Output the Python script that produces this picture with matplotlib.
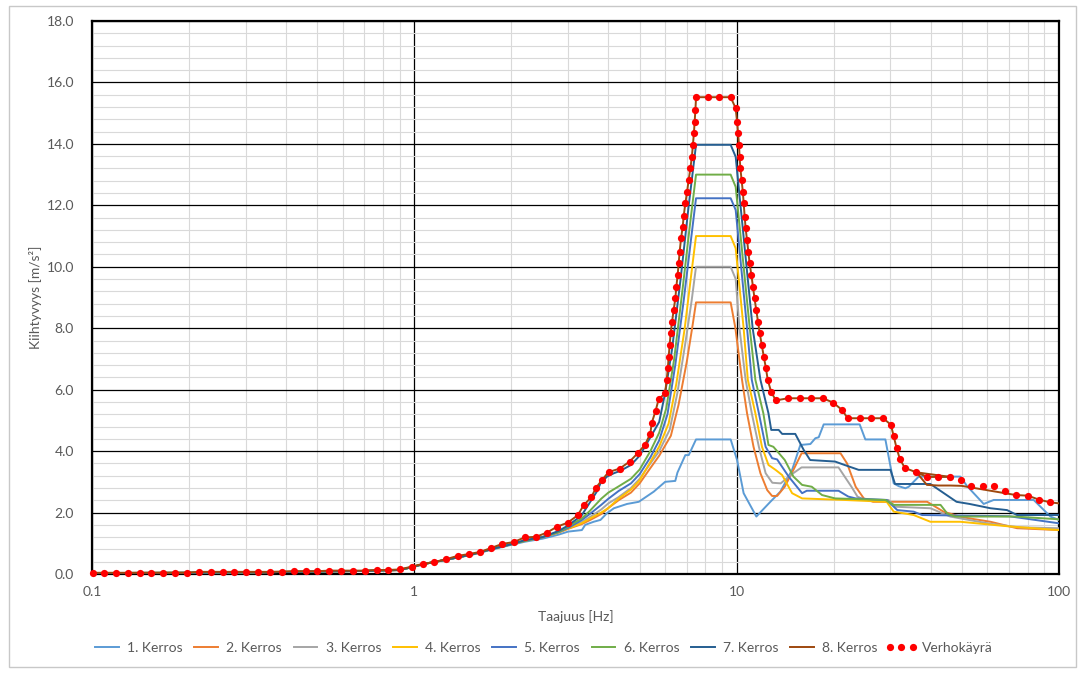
import matplotlib
matplotlib.use("Agg")
import matplotlib.pyplot as plt
from matplotlib.patches import Rectangle
from matplotlib.ticker import FixedLocator, FixedFormatter, NullFormatter

plt.rcParams['font.family'] = ['Lato', 'DejaVu Sans']

# ---------------- data ----------------
ENV_F = [0.1004, 0.1092, 0.1190, 0.1293, 0.1405, 0.1528, 0.1664, 0.1809, 0.1971, 0.2142,
         0.2333, 0.2542, 0.2763, 0.3004, 0.3273, 0.3567, 0.3876, 0.4221, 0.4600, 0.5000,
         0.5436, 0.5924, 0.6452, 0.7012, 0.7638, 0.8304, 0.9029, 0.9809,
         1.064, 1.154, 1.254, 1.362, 1.478, 1.602, 1.734, 1.875, 2.033, 2.199,
         2.386, 2.580, 2.772, 2.990, 3.212, 3.353, 3.541, 3.662, 3.822, 4.008,
         4.335, 4.656, 4.930, 5.197, 5.398, 5.449, 5.607, 5.728,
         5.995, 6.064, 6.116, 6.152, 6.196, 6.240, 6.303, 6.375, 6.453, 6.499,
         6.560, 6.607, 6.655, 6.722, 6.800, 6.849, 6.932, 7.017, 7.098, 7.184,
         7.262, 7.314, 7.367, 7.409, 7.447, 7.482, 8.128, 8.836, 9.580,
         9.929, 10.03, 10.10, 10.17, 10.21, 10.27, 10.36, 10.45, 10.51, 10.59,
         10.66, 10.77, 10.87, 10.97, 11.11, 11.23, 11.36, 11.50, 11.64, 11.79,
         11.96, 12.14, 12.32, 12.48, 12.79, 13.23, 14.42, 15.71, 17.06, 18.51,
         19.91, 21.23, 22.10, 24.06, 26.15, 28.46, 30.09, 30.70, 31.34, 32.09,
         33.26, 36.12, 38.92, 42.25, 45.94, 49.80, 53.19, 57.94, 63.04, 68.06,
         73.49, 79.99, 86.77, 94.05, 100.0]
ENV_A = [0.04, 0.04, 0.04, 0.04, 0.04, 0.04, 0.04, 0.04, 0.04, 0.07,
         0.07, 0.07, 0.07, 0.07, 0.07, 0.07, 0.08, 0.09, 0.09, 0.09,
         0.11, 0.11, 0.11, 0.11, 0.13, 0.13, 0.15, 0.24,
         0.33, 0.39, 0.48, 0.59, 0.65, 0.72, 0.85, 0.98, 1.04, 1.19,
         1.21, 1.35, 1.54, 1.67, 1.91, 2.24, 2.50, 2.81, 3.06, 3.32,
         3.43, 3.66, 3.93, 4.21, 4.57, 4.91, 5.32, 5.69,
         5.88, 6.30, 6.70, 7.07, 7.45, 7.84, 8.21, 8.59, 8.97, 9.35,
         9.73, 10.11, 10.49, 10.93, 11.30, 11.65, 12.07, 12.44, 12.83, 13.20,
         13.58, 13.97, 14.34, 14.72, 15.10, 15.52, 15.52, 15.52, 15.52,
         15.16, 14.72, 14.34, 13.97, 13.58, 13.20, 12.83, 12.44, 12.07, 11.63,
         11.25, 10.87, 10.49, 10.11, 9.73, 9.35, 8.97, 8.59, 8.21, 7.84,
         7.46, 7.07, 6.71, 6.33, 5.93, 5.65, 5.72, 5.72, 5.72, 5.72,
         5.58, 5.34, 5.07, 5.07, 5.07, 5.07, 4.86, 4.49, 4.10, 3.74,
         3.45, 3.31, 3.16, 3.16, 3.16, 3.07, 2.86, 2.86, 2.86, 2.71,
         2.57, 2.55, 2.42, 2.33, 2.30]

LOW_F = [0.1, 0.2, 0.35, 0.5, 0.7, 0.9, 0.98, 1.064, 1.25, 1.5, 1.75, 2.0, 2.2, 2.5, 2.8]

K1_F = LOW_F + [3.0, 3.31, 3.39, 3.60, 3.78, 3.96, 4.16, 4.57, 4.97, 5.15, 5.53, 6.0,
                6.45, 6.55, 6.93, 7.10, 7.48, 9.58, 10.03, 10.51, 11.51, 12.72, 13.66,
                14.86, 15.76, 16.93, 17.55, 17.97, 18.62, 24.08, 25.07, 28.93, 30.70,
                31.81, 33.38, 34.18, 36.71, 49.44, 51.87, 58.40, 62.72, 83.47, 94.05, 100.0]
K1_A = [0.03, 0.04, 0.06, 0.08, 0.10, 0.13, 0.22, 0.32, 0.46, 0.62, 0.80, 0.95, 1.05, 1.15, 1.28,
        1.38, 1.43, 1.60, 1.70, 1.76, 1.98, 2.14, 2.28, 2.35, 2.46, 2.68, 3.00,
        3.03, 3.30, 3.87, 3.87, 4.38, 4.38, 3.71, 2.63, 1.87, 2.35, 2.68,
        3.39, 4.20, 4.23, 4.42, 4.45, 4.87, 4.87, 4.38, 4.38, 2.95,
        2.86, 2.79, 2.84, 3.17, 3.17, 2.86, 2.28, 2.41, 2.41, 1.87, 1.76]

K2_F = LOW_F + [3.0, 3.3, 3.5, 3.8, 4.0, 4.3, 4.7, 5.0, 5.4, 5.75, 6.25, 6.6, 7.0, 7.3, 7.48,
                9.58, 9.91, 10.39, 10.77, 11.28, 11.85, 12.44, 12.88, 13.35, 14.1, 15.0,
                15.9, 21.0, 22.0, 23.4, 24.8, 26.5, 39.0, 43.8, 50.0, 61.3, 74.1, 100.0]
K2_A = [0.03, 0.04, 0.06, 0.08, 0.10, 0.13, 0.22, 0.32, 0.46, 0.63, 0.82, 0.97, 1.08, 1.2, 1.35,
        1.47, 1.62, 1.75, 1.95, 2.15, 2.40, 2.65, 2.95, 3.45, 3.85, 4.5, 5.5, 6.9, 8.1, 8.84,
        8.84, 8.0, 6.32, 5.23, 4.14, 3.28, 2.73, 2.54, 2.54, 2.84, 3.39,
        3.93, 3.93, 3.60, 2.84, 2.46, 2.35, 2.35, 2.03, 1.85, 1.70, 1.49, 1.43]

K3_F = LOW_F + [3.0, 3.3, 3.5, 3.8, 4.0, 4.3, 4.7, 5.0, 5.4, 5.75, 6.2, 6.55, 6.95, 7.25, 7.48,
                9.58, 9.93, 10.2, 10.66, 11.14, 11.72, 12.3, 12.9, 13.7, 14.7, 15.9,
                20.7, 22.7, 23.7, 25.0, 29.6, 31.0, 39.9, 46.0, 60.0, 75.0, 100.0]
K3_A = [0.03, 0.04, 0.06, 0.08, 0.10, 0.13, 0.22, 0.32, 0.46, 0.63, 0.82, 0.97, 1.08, 1.2, 1.36,
        1.50, 1.68, 1.85, 2.10, 2.30, 2.50, 2.80, 3.10, 3.60, 4.00, 4.7, 5.9, 7.6, 8.9, 10.0,
        10.0, 9.6, 8.0, 6.32, 5.23, 4.14, 3.28, 2.97, 2.95, 3.22, 3.47,
        3.47, 2.84, 2.52, 2.41, 2.41, 2.19, 2.14, 1.87, 1.65, 1.52, 1.49]

K4_F = LOW_F + [3.0, 3.3, 3.5, 3.8, 4.0, 4.3, 4.7, 5.0, 5.4, 5.75, 6.15, 6.5, 6.9, 7.2, 7.48,
                9.58, 9.93, 10.51, 10.83, 11.43, 11.98, 12.55, 13.2, 13.84, 14.86, 15.96,
                21.6, 29.2, 30.7, 35.4, 39.9, 49.4, 70.0, 100.0]
K4_A = [0.03, 0.04, 0.06, 0.08, 0.10, 0.13, 0.22, 0.32, 0.46, 0.63, 0.82, 0.97, 1.08, 1.2, 1.35,
        1.48, 1.65, 1.80, 2.00, 2.15, 2.45, 2.75, 3.05, 3.65, 4.15, 4.9, 6.2, 8.0, 9.6, 11.0,
        11.0, 10.6, 8.0, 6.32, 5.23, 4.14, 3.55, 3.39, 3.22, 2.63, 2.46,
        2.41, 2.35, 2.03, 1.92, 1.70, 1.70, 1.55, 1.43]

K5_F = LOW_F + [3.0, 3.3, 3.5, 3.8, 4.0, 4.3, 4.7, 5.0, 5.4, 5.75, 6.1, 6.45, 6.85, 7.2, 7.48,
                9.58, 9.93, 10.77, 11.14, 11.72, 12.3, 12.88, 13.35, 14.5, 15.96, 16.5,
                20.7, 22.2, 23.4, 29.2, 31.5, 35.4, 37.6, 70.0, 100.0]
K5_A = [0.03, 0.04, 0.06, 0.08, 0.10, 0.13, 0.22, 0.32, 0.46, 0.63, 0.82, 0.97, 1.08, 1.2, 1.36,
        1.50, 1.75, 1.95, 2.25, 2.45, 2.70, 2.95, 3.25, 3.80, 4.35, 5.2, 6.8, 8.9, 10.8, 12.23,
        12.23, 11.85, 8.0, 6.32, 5.23, 4.14, 3.77, 3.73, 3.17, 2.63, 2.71,
        2.71, 2.52, 2.46, 2.41, 2.08, 2.03, 1.92, 1.88, 1.65]

K6_F = LOW_F + [3.0, 3.3, 3.5, 3.8, 4.0, 4.3, 4.7, 5.0, 5.4, 5.75, 6.05, 6.4, 6.8, 7.15, 7.48,
                9.58, 9.93, 10.98, 11.43, 12.1, 12.55, 13.0, 14.1, 15.0, 15.96, 17.1, 18.4,
                20.2, 28.9, 30.7, 42.9, 45.0, 47.5, 73.0, 100.0]
K6_A = [0.03, 0.04, 0.06, 0.08, 0.10, 0.13, 0.22, 0.32, 0.46, 0.63, 0.82, 0.97, 1.08, 1.2, 1.37,
        1.55, 1.80, 2.05, 2.45, 2.65, 2.85, 3.10, 3.40, 4.00, 4.60, 5.4, 7.0, 9.3, 11.3, 13.0,
        13.0, 12.6, 8.0, 6.32, 5.23, 4.20, 4.14, 3.71, 3.17, 2.90, 2.84, 2.57,
        2.46, 2.41, 2.25, 2.25, 1.97, 1.87, 1.87, 1.78]

K7_F = LOW_F + [3.0, 3.3, 3.6, 3.69, 3.78, 3.96, 4.16, 4.36, 4.7, 5.0, 5.4, 5.75, 6.0, 6.3, 6.7,
                7.1, 7.48, 9.58, 9.93, 11.21, 11.85, 12.55, 12.8, 13.5, 13.84, 15.2, 16.14,
                16.9, 20.2, 21.6, 23.9, 30.0, 31.0, 39.9, 48.1, 52.8, 61.3, 69.0, 74.1, 100.0]
K7_A = [0.03, 0.04, 0.06, 0.08, 0.10, 0.13, 0.22, 0.32, 0.46, 0.63, 0.82, 0.97, 1.10, 1.2, 1.40,
        1.58, 1.90, 2.52, 2.70, 2.95, 3.17, 3.28, 3.36, 3.55, 3.85, 4.45, 4.95, 5.9, 7.3, 9.6,
        12.0, 13.97, 13.97, 13.58, 8.0, 6.32, 5.23, 4.69, 4.69, 4.56, 4.56, 4.04,
        3.71, 3.66, 3.55, 3.39, 3.39, 2.93, 2.93, 2.35, 2.28, 2.14, 2.08, 1.92, 1.92]

K8_F = ENV_F[:130] + [36.12, 38.92, 42.25, 45.94, 49.80] + ENV_F[135:]
K8_A = ENV_A[:130] + [3.31, 2.90, 2.88, 2.88, 2.87] + ENV_A[135:]

SERIES = [("1. Kerros", K1_F, K1_A), ("2. Kerros", K2_F, K2_A), ("3. Kerros", K3_F, K3_A),
          ("4. Kerros", K4_F, K4_A), ("5. Kerros", K5_F, K5_A), ("6. Kerros", K6_F, K6_A),
          ("7. Kerros", K7_F, K7_A), ("8. Kerros", K8_F, K8_A)]
COLORS = ["#5B9BD5", "#ED7D31", "#A5A5A5", "#FFC000", "#4472C4", "#70AD47", "#255E91", "#9E480E"]

XTICKS = [0.1, 1, 10, 100]
XTICKLABELS = ["0.1", "1", "10", "100"]
YTICKS = [0, 2, 4, 6, 8, 10, 12, 14, 16, 18]
YTICKLABELS = ["0.0", "2.0", "4.0", "6.0", "8.0", "10.0", "12.0", "14.0", "16.0", "18.0"]

# ---------------- figure ----------------
W, H = 1083, 673
fig = plt.figure(figsize=(W / 100, H / 100), dpi=100)
fig.patches.append(Rectangle((9 / W, 1 - 667 / H), (1076 - 9) / W, (667 - 6) / H,
                             transform=fig.transFigure, fill=False, edgecolor="#C8C8C8", lw=1.0))
ax = fig.add_axes([92 / W, 1 - 574 / H, (1059 - 92) / W, (574 - 21) / H])
ax.set_xscale("log")
ax.set_xlim(0.1, 100)
ax.set_ylim(0, 18)

ax.xaxis.set_major_locator(FixedLocator(XTICKS))
ax.xaxis.set_major_formatter(FixedFormatter(XTICKLABELS))
minx = [m * d for d in (0.1, 1, 10) for m in range(2, 10)]
ax.xaxis.set_minor_locator(FixedLocator(minx))
ax.xaxis.set_minor_formatter(NullFormatter())
ax.yaxis.set_major_locator(FixedLocator(YTICKS))
ax.yaxis.set_major_formatter(FixedFormatter(YTICKLABELS))
ax.yaxis.set_minor_locator(FixedLocator([i * 0.4 for i in range(46)]))

ax.grid(which="minor", color="#D9D9D9", lw=0.8)
ax.grid(which="major", color="black", lw=0.9)
ax.set_axisbelow(True)
for s in ax.spines.values():
    s.set_color("black")
    s.set_linewidth(1.6)
ax.tick_params(which="both", length=0, labelsize=10, colors="#595959")
ax.tick_params(axis="y", pad=13)
ax.tick_params(axis="x", pad=9)

handles = []
for (name, fx, fy), c in zip(SERIES, COLORS):
    h, = ax.plot(fx, fy, color=c, lw=1.4, label=name, zorder=3)
    handles.append(h)
hv, = ax.plot(ENV_F, ENV_A, linestyle="none", marker="o", ms=5.2, color="#FF0000",
              markeredgewidth=0, label="Verhokäyrä", zorder=4, clip_on=False,
              markevery=list(range(len(ENV_F) - 1)))
handles.append(hv)

fig.text(575.5 / W, 1 - 617 / H, "Taajuus [Hz]", ha="center", va="center", fontsize=10, color="#595959")
fig.text(36 / W, 1 - 297 / H, "Kiihtyvyys [m/s²]", ha="center", va="center", rotation=90,
         fontsize=10, color="#595959")

leg = fig.legend(handles=handles, loc="center", bbox_to_anchor=(541.5 / W, 1 - 648 / H), ncol=9,
                 frameon=False, fontsize=10, handlelength=2.3, handletextpad=0.3,
                 columnspacing=0.55, numpoints=3, labelcolor="#595959")

fig.savefig("out.png", dpi=100)
